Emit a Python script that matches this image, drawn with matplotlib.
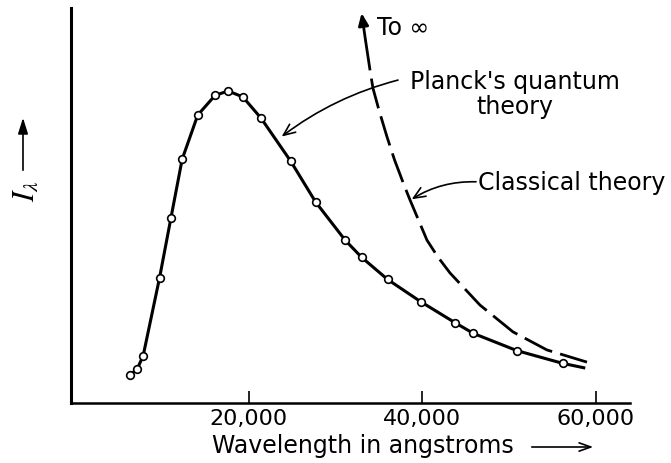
import numpy as np
import matplotlib
matplotlib.use('Agg')
import matplotlib.pyplot as plt

plt.rcParams['font.family'] = ['DejaVu Sans']
plt.rcParams['mathtext.fontset'] = 'stix'

# Planck curve, measured points (wavelength in angstroms, relative intensity)
planck_wl = [6300, 7100, 7800, 9700, 11000, 12300, 14100, 16100, 17600, 19300,
             21400, 24800, 27700, 31100, 33000, 36000, 39800, 43800, 45900,
             50900, 56200]
planck_i = [9.0, 10.8, 15.1, 40.2, 59.2, 78.1, 92.3, 98.6, 100.0, 98.1,
            91.3, 77.6, 64.4, 52.2, 46.7, 39.6, 32.5, 25.7, 22.3, 16.8, 12.7]
# where the drawn curve stops after the last point
planck_end_wl = 58800
planck_end_i = 11.2

# classical (Rayleigh-Jeans) curve
classical_wl = [33000, 33450, 33970, 34310, 35000, 35930, 36800, 37890,
                38580, 40540, 41800, 43190, 46650, 50460, 54380, 59000]
classical_i = [125.0, 116.3, 106.7, 100.9, 93.9, 85.3, 77.9, 69.9,
               65.1, 52.2, 46.8, 41.7, 31.4, 22.8, 17.0, 13.1]

xticks = [20000, 40000, 60000]
xtick_labels = ['20,000', '40,000', '60,000']

fig = plt.figure(figsize=(6.71, 4.63), dpi=100)
ax = fig.add_axes([71 / 671, 60 / 463, 559 / 671, 395 / 463])

line_x = planck_wl + [planck_end_wl]
line_y = planck_i + [planck_end_i]
ax.plot(line_x, line_y, color='black', lw=2.2, solid_capstyle='butt', zorder=2)
ax.plot(planck_wl, planck_i, 'o', ms=5.5, mfc='white', mec='black', mew=1.2, zorder=3)

ax.plot(classical_wl[1:], classical_i[1:], color='black', lw=2.0, dashes=[11.0, 3.0], zorder=2)
# arrow head on top of the dashed curve ("To infinity")
ax.annotate('', xy=(classical_wl[0], classical_i[0]), xytext=(classical_wl[1], classical_i[1]),
            arrowprops=dict(arrowstyle='-|>,head_length=0.6,head_width=0.25', color='black',
                            lw=2.0, mutation_scale=12, shrinkA=0, shrinkB=0))

ax.text(34740, 120.2, 'To \u221e', fontsize=17, ha='left', va='center')

ax.text(50700, 99.0, "Planck's quantum\ntheory", fontsize=17, ha='center', va='center',
        multialignment='center', linespacing=1.05)
ax.annotate('', xy=(23780, 85.4), xytext=(37200, 103.5),
            arrowprops=dict(arrowstyle='->,head_length=0.7,head_width=0.3', color='black',
                            lw=1.2, mutation_scale=12, shrinkA=0, shrinkB=0,
                            connectionstyle='arc3,rad=0.1'))

ax.text(46425, 70.6, 'Classical theory', fontsize=17, ha='left', va='center')
ax.annotate('', xy=(38780, 65.3), xytext=(46200, 70.9),
            arrowprops=dict(arrowstyle='->,head_length=0.7,head_width=0.3', color='black',
                            lw=1.2, mutation_scale=12, shrinkA=0, shrinkB=0,
                            connectionstyle='arc3,rad=0.15'))

ax.set_xlim(-520, 63960)
ax.set_ylim(0, 126.6)

for side in ['top', 'right']:
    ax.spines[side].set_visible(False)
ax.spines['left'].set_linewidth(2.2)
ax.spines['bottom'].set_linewidth(1.8)

ax.set_xticks(xticks)
ax.set_xticklabels(xtick_labels, fontsize=16)
ax.tick_params(axis='x', direction='in', length=9, width=1.2, pad=4)
ax.set_yticks([])

# axis titles with their arrows
fig.text(212 / 671, 1 - 453 / 463, 'Wavelength in angstroms', fontsize=17,
         ha='left', va='baseline')
fig.add_artist(matplotlib.patches.FancyArrowPatch(
    (529 / 671, 1 - 447 / 463), (596 / 671, 1 - 447 / 463), transform=fig.transFigure,
    arrowstyle='->,head_length=0.7,head_width=0.25', mutation_scale=12, lw=1.2, color='black'))

fig.text(25 / 671, 1 - 191 / 463, r'$I_\lambda$', fontsize=22, rotation=90,
         ha='center', va='center')
fig.add_artist(matplotlib.patches.FancyArrowPatch(
    (23 / 671, 1 - 173 / 463), (23 / 671, 1 - 115 / 463), transform=fig.transFigure,
    arrowstyle='-|>,head_length=0.8,head_width=0.25', mutation_scale=12, lw=1.2, color='black'))

fig.savefig('out.png', dpi=100)
